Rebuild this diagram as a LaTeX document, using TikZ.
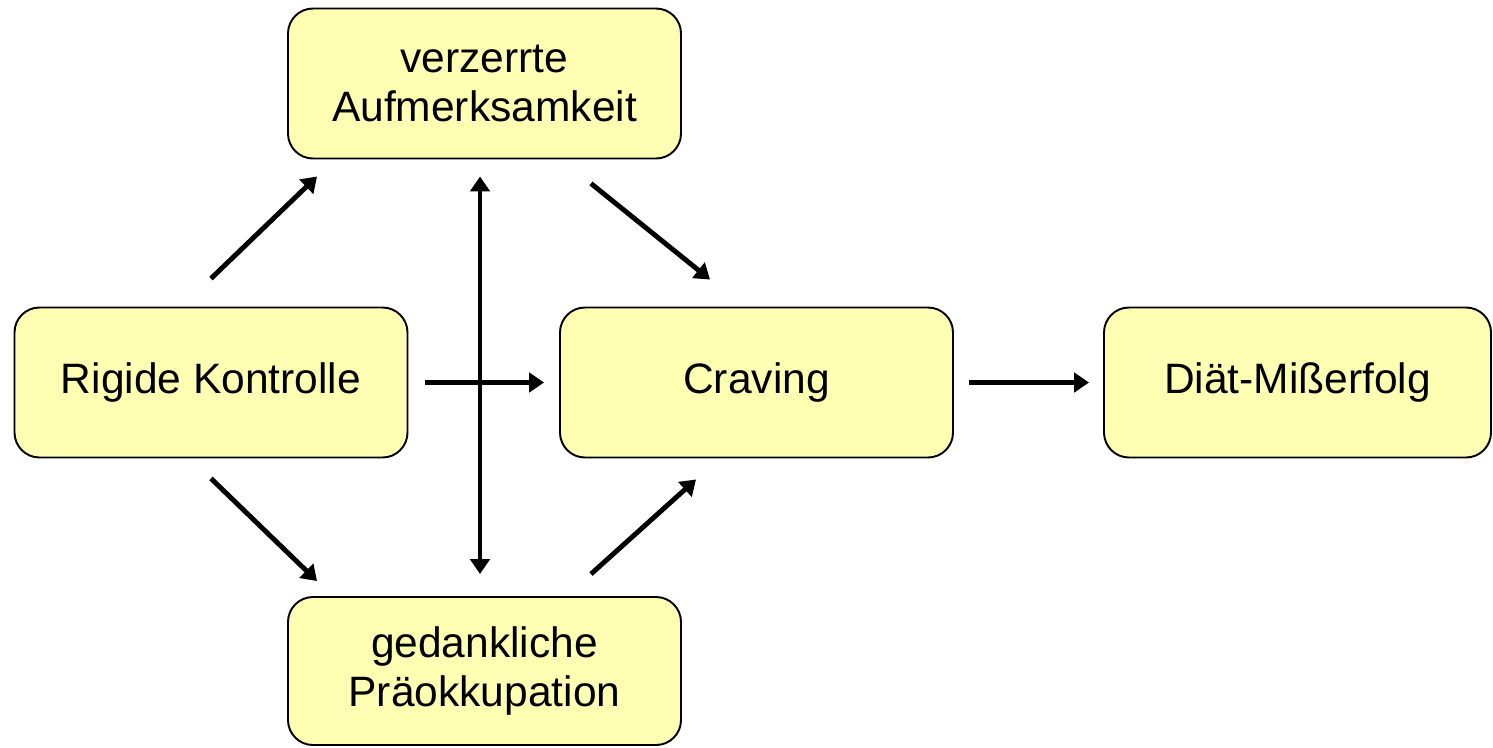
\documentclass[tikz,border=0pt]{standalone}
\usepackage{fontspec}
\setmainfont{Liberation Sans}
\usepackage{xcolor}
\definecolor{boxyellow}{HTML}{FFFFB3}
\usetikzlibrary{arrows.meta}

\begin{document}
\begin{tikzpicture}[
    box/.style={draw, line width=1.1pt, fill=boxyellow, rounded corners=0.5cm,
      minimum width=7.86cm, minimum height=3.0cm, align=center,
      font=\fontsize{24.2}{27.5}\selectfont},
    arr/.style={line width=2.8pt, -{Triangle[length=8.5pt,width=11pt]}},
    darr/.style={line width=2.8pt, {Triangle[length=8.5pt,width=11pt]}-{Triangle[length=8.5pt,width=11pt]}}
  ]
    \useasboundingbox (0,0) rectangle (29.86,-14.94);
    \node[box] (aufm) at (9.69,-1.67) {verzerrte\\Aufmerksamkeit};
    \node[box] (rigide) at (4.22,-7.65) {Rigide Kontrolle};
    \node[box] (craving) at (15.13,-7.65) {Craving};
    \node[box, minimum width=7.74cm] (diaet) at (25.95,-7.65) {Diät-Mißerfolg};
    \node[box, minimum height=2.96cm] (praeok) at (9.69,-13.42) {gedankliche\\Präokkupation};

    \draw[arr] ([yshift=0.56cm]rigide.north) -- ([xshift=0.6cm,yshift=-0.34cm]aufm.south west);
    \draw[arr] ([yshift=-0.4cm]rigide.south) -- ([xshift=0.6cm,yshift=0.3cm]praeok.north west);
    \draw[arr] ([xshift=0.34cm]rigide.east) -- ([xshift=-0.3cm]craving.west);
    \draw[darr] ([xshift=-0.09cm,yshift=-0.34cm]aufm.south) -- ([xshift=-0.09cm,yshift=0.44cm]praeok.north);
    \draw[arr] ([xshift=-1.82cm,yshift=-0.48cm]aufm.south east) -- ([xshift=3.02cm,yshift=0.54cm]craving.north west);
    \draw[arr] ([xshift=-1.82cm,yshift=0.44cm]praeok.north east) -- ([xshift=2.74cm,yshift=-0.42cm]craving.south west);
    \draw[arr] ([xshift=0.3cm]craving.east) -- ([xshift=-0.28cm]diaet.west);
  \end{tikzpicture}
\end{document}
